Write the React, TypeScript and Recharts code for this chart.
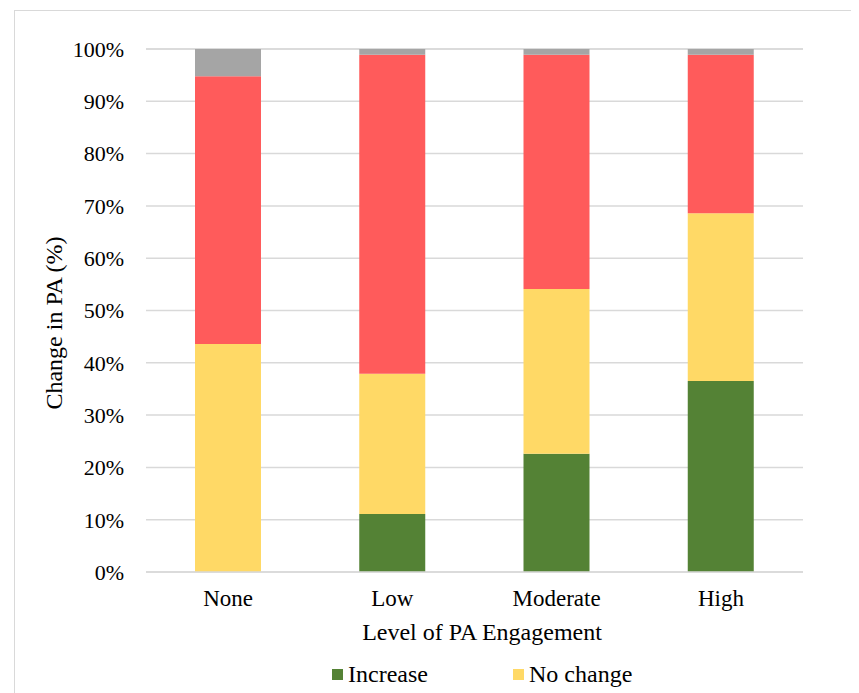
import React from 'react';
import { BarChart, Bar, XAxis, YAxis, CartesianGrid } from 'recharts';

const categories = ['None', 'Low', 'Moderate', 'High'];
const increase = [0, 11.1, 22.6, 36.5];
const noChange = [43.6, 26.8, 31.5, 32.1];
const decrease = [51.2, 61.0, 44.8, 30.3];
const missing = [5.2, 1.1, 1.1, 1.1];
const yTicks = [0, 10, 20, 30, 40, 50, 60, 70, 80, 90, 100];

const series = [
  { key: 'increase', name: 'Increase', color: '#548235' },
  { key: 'noChange', name: 'No change', color: '#FFD966' },
  { key: 'decrease', name: 'Decrease', color: '#FF5B5B' },
  { key: 'missing', name: 'Missing', color: '#A5A5A5' },
];
// only the first legend row is visible in the reference (the rest is cropped)
const legendVisible = ['increase', 'noChange'];

const data = categories.map((c, i) => ({
  name: c,
  increase: increase[i],
  noChange: noChange[i],
  decrease: decrease[i],
  missing: missing[i],
}));

const FONT = '"Liberation Serif", "Times New Roman", serif';

export default function App() {
  return (
    <div style={{ position: 'relative', width: 843, height: 685, overflow: 'hidden', fontFamily: FONT }}>
      <div
        style={{
          position: 'absolute', left: 6, top: 2, width: 900, height: 800,
          border: '1.5px solid #d9d9d9', boxSizing: 'border-box',
        }}
      />
      <div style={{ position: 'absolute', left: 0, top: 0 }}>
        <BarChart
          width={843}
          height={640}
          data={data}
          margin={{ top: 41, right: 48, left: 20, bottom: 16 }}
        >
          <CartesianGrid vertical={false} stroke="#d9d9d9" strokeWidth={1.5} />
          <XAxis
            dataKey="name"
            height={60}
            axisLine={{ stroke: '#d9d9d9', strokeWidth: 1.5 }}
            tickLine={false}
            tickMargin={12}
            tick={{ fill: '#000', fontSize: 23, fontFamily: FONT }}
          />
          <YAxis
            width={118}
            domain={[0, 100]}
            ticks={yTicks}
            interval={0}
            axisLine={false}
            tickLine={false}
            tickMargin={16}
            tickFormatter={(v) => `${v}%`}
            tick={{ fill: '#000', fontSize: 22, fontFamily: FONT }}
          />
          {series.map((s) => (
            <Bar
              key={s.key}
              dataKey={s.key}
              name={s.name}
              stackId="a"
              fill={s.color}
              barSize={66}
              isAnimationActive={false}
            />
          ))}
        </BarChart>
      </div>
      <div
        style={{
          position: 'absolute', left: 46, top: 315, transform: 'translate(-50%, -50%) rotate(-90deg)',
          fontSize: 24, whiteSpace: 'nowrap', color: '#000',
        }}
      >
        Change in PA (%)
      </div>
      <div
        style={{
          position: 'absolute', left: 474, top: 624, transform: 'translate(-50%, -50%)',
          fontSize: 24, whiteSpace: 'nowrap', color: '#000',
        }}
      >
        Level of PA Engagement
      </div>
      <div style={{ position: 'absolute', left: 324, top: 651, width: 370, display: 'flex' }}>
        {series.filter((s) => legendVisible.includes(s.key)).map((s) => (
          <div key={s.key} style={{ width: 181, display: 'flex', alignItems: 'center', height: 30, fontSize: 24 }}>
            <div style={{ width: 11, height: 11, background: s.color, marginRight: 5 }} />
            {s.name}
          </div>
        ))}
      </div>
    </div>
  );
}
